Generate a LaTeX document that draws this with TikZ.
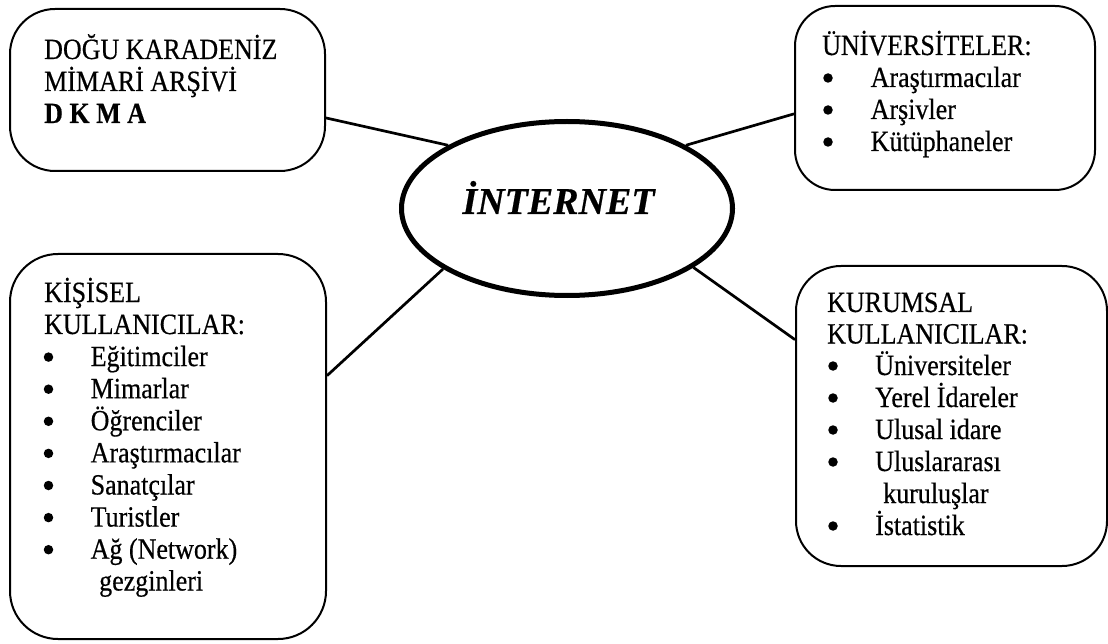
\documentclass[tikz,border=0pt]{standalone}
\usepackage{fontspec}
\setmainfont{Liberation Serif}[FakeBold=0.5]
\newfontfamily\printfont{Liberation Serif}[FakeBold=0.5]
\usetikzlibrary{shapes.geometric}

\begin{document}
\begin{tikzpicture}[x=1pt, y=-1pt,
  panel/.style={draw, line width=2pt, rounded corners=#1, inner sep=0pt, anchor=north west},
  panel/.default=45pt,
  hub/.style={draw, ellipse, line width=5pt, inner sep=0pt,
              minimum width=331pt, minimum height=174pt},
  link/.style={line width=2.7pt},
  txt/.style={anchor=base west, inner sep=0pt, yscale=1.13,
              font=\printfont\fontsize{26}{31}\selectfont},
  bul/.style={circle, fill, inner sep=0pt, minimum size=9.5pt},
]
\useasboundingbox (0,0) rectangle (1108,644);

% the four panels and the central hub
\node[panel, minimum width=315pt, minimum height=162pt] (dkma) at (9,8) {};
\node[panel=40pt, minimum width=300pt, minimum height=184pt] (univ) at (794,5) {};
\node[panel=48pt, minimum width=316pt, minimum height=385pt] (kisisel) at (9,253) {};
\node[panel, minimum width=311pt, minimum height=300pt] (kurumsal) at (795,265) {};
\node[hub] (internet) at (567,208.5) {};
\node[anchor=base, inner sep=0pt, font=\fontsize{38}{40}\selectfont\bfseries\itshape]
  (internet-label) at (558.5,214) {İNTERNET};

% connectors
\draw[link] (dkma.-10) -- (internet.152.7);
\draw[link] (internet.28) -- (univ.186.5);
\draw[link] (kisisel.24.9) -- (internet.206.6);
\draw[link] (internet.-25.6) -- (kurumsal.154.6);

% archive panel
\node[txt] (dkma-1) at (44,59) {DOĞU KARADENİZ};
\node[txt] (dkma-2) at (44,91) {MİMARİ ARŞİVİ};
\node[txt, font=\fontsize{26}{31}\selectfont\bfseries] (dkma-3) at (44,123) {D K M A};

% universities panel
\node[txt] (univ-h) at (822,55) {ÜNİVERSİTELER:};
\foreach \t [count=\i] in {Araştırmacılar,Arşivler,Kütüphaneler} {
  \node[txt] (univ-\i) at (870.5,{55+32*\i}) {\t};
  \node[bul] (univ-dot-\i) at (828,{55+32*\i-9}) {};
}

% individual users panel
\node[txt] (kis-h1) at (44,302) {KİŞİSEL};
\node[txt] (kis-h2) at (44,334) {KULLANICILAR:};
\foreach \t [count=\i] in {Eğitimciler,Mimarlar,Öğrenciler,Araştırmacılar,Sanatçılar,Turistler,Ağ (Network)} {
  \node[txt] (kis-\i) at (90.5,{334+32.1*\i}) {\t};
  \node[bul] (kis-dot-\i) at (48.5,{334+32.1*\i-9}) {};
}
\node[txt] (kis-cont) at (99,590.5) {gezginleri};

% institutional users panel
\node[txt] (kur-h1) at (827,312) {KURUMSAL};
\node[txt] (kur-h2) at (827,343.5) {KULLANICILAR:};
\foreach \t/\y [count=\i] in {Üniversiteler/375,Yerel İdareler/407,Ulusal idare/439,Uluslararası/471,İstatistik/535} {
  \node[txt] (kur-\i) at (875,\y) {\t};
  \node[bul] (kur-dot-\i) at (833,{\y-9}) {};
}
\node[txt] (kur-cont) at (883,503) {kuruluşlar};
\end{tikzpicture}
\end{document}
